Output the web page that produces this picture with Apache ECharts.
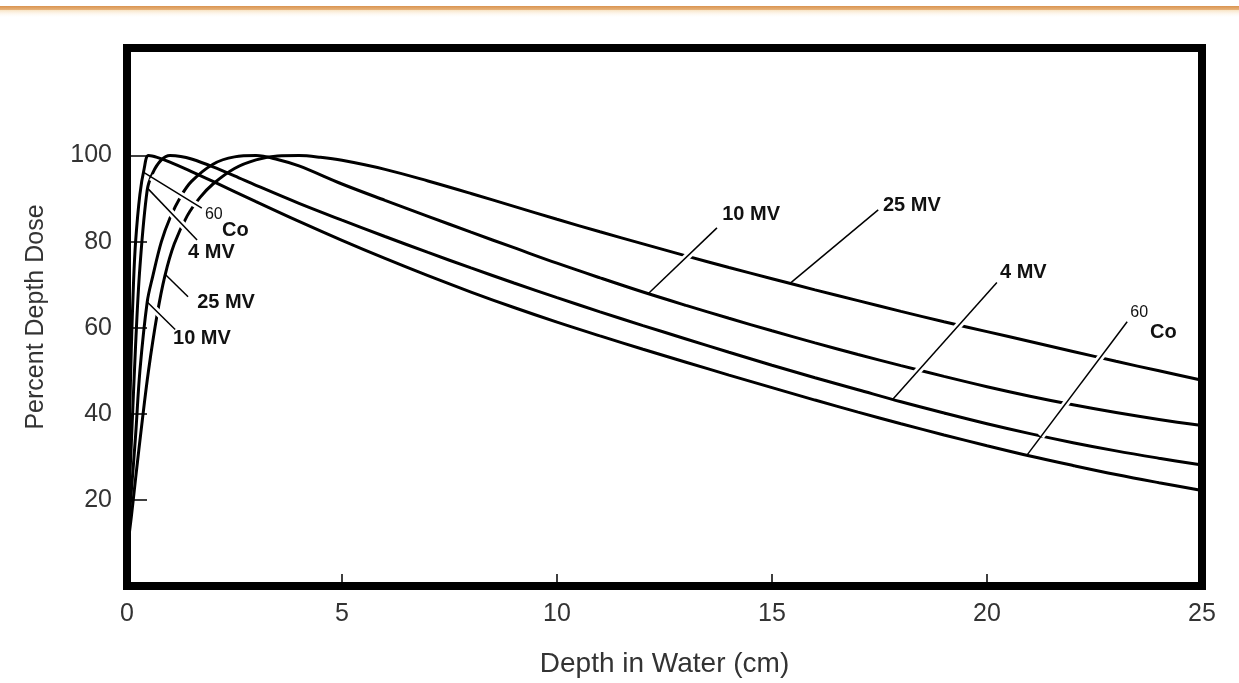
<!DOCTYPE html>
<html><head><meta charset="utf-8">
<script src="https://cdn.jsdelivr.net/npm/echarts@6/dist/echarts.min.js"></script>
<style>html,body{margin:0;padding:0;background:#fff}#c{width:1239px;height:683px}</style>
</head><body><div id="c"></div>
<script>
// ---- data ----
const xTicks = [0, 5, 10, 15, 20, 25];
const yTicks = [20, 40, 60, 80, 100];

const depthCo = [0,0.05,0.1,0.15,0.2,0.3,0.4,0.5,0.7,1,1.5,2,3,4,5,6,7,8,9,10,11,12,13,14,15,16,17,18,19,20,21,22,23,24,25];
const pddCo   = [14,35,55,70,80,91,97,100,99.6,98.5,96.3,94,89.3,84.7,80.3,76.1,72.1,68.3,64.7,61.3,58.1,55,52,49,46.1,43.2,40.4,37.7,35.1,32.6,30.2,28,25.9,24,22.2];

const depth4 = [0,0.1,0.2,0.3,0.47,0.6,0.8,1,1.25,1.5,2,2.5,3,4,5,6,7,8,9,10,11,12,13,14,15,16,17,18,19,20,21,22,23,24,25];
const pdd4   = [12,33,56,74,92,96,99,100,99.8,99.2,97.4,95.3,93.1,88.9,85,81.2,77.5,73.9,70.4,67,63.7,60.5,57.4,54.3,51.3,48.4,45.6,42.8,40.2,37.7,35.4,33.3,31.4,29.7,28.1];

const depth10 = [0,0.1,0.2,0.3,0.47,0.6,0.8,1,1.25,1.5,2,2.5,3,3.5,4,5,6,7,8,9,10,11,12,13,14,15,16,17,18,19,20,21,22,23,24,25];
const pdd10   = [10,22,35,50,66,72,80,85.5,90.5,94,98,99.7,100,99.1,97.6,93.4,89.6,85.9,82.2,78.6,75,71.6,68.3,65.2,62.2,59.3,56.5,53.8,51.2,48.7,46.3,44.1,42.1,40.3,38.7,37.3];

const depth25 = [0,0.1,0.2,0.35,0.5,0.7,0.88,1.1,1.4,1.7,2,2.5,3,3.5,4,4.5,5,6,7,8,9,10,11,12,13,14,15,16,17,18,19,20,21,22,23,24,25];
const pdd25   = [8,16,25,38,50,63,72,79.5,86,90.3,93.4,97,99,99.9,100,99.6,98.9,96.8,94.1,91.2,88.2,85.2,82.3,79.5,76.7,74,71.4,68.8,66.3,63.8,61.4,59.1,56.8,54.5,52.2,50,47.8];

// annotation texts and their anchor points (data coordinates)
const seriesNames = ['60Co', '4 MV', '10 MV', '25 MV'];
const noteText = {
  '60Co':  [['60', 'Co'], ['60', 'Co']],
  '4 MV':  [['4 MV'], ['4 MV']],
  '10 MV': [['10 MV'], ['10 MV']],
  '25 MV': [['25 MV'], ['25 MV']]
};
const noteAt = {
  '60Co':  [[[1.81, 86.4], [2.21, 82.5]], [[23.33, 63.5], [23.79, 58.9]]],
  '4 MV':  [[[1.42, 77.4]], [[20.3, 72.8]]],
  '10 MV': [[[1.07, 57.5]], [[13.84, 86.4]]],
  '25 MV': [[[1.63, 65.8]], [[17.58, 88.3]]]
};
const arrowFrom = {
  '60Co':  [[1.74, 87.8], [23.26, 61.4]],
  '4 MV':  [[1.63, 80.4], [20.23, 70.5]],
  '10 MV': [[1.12, 59.6], [13.72, 83.2]],
  '25 MV': [[1.42, 67.2], [17.47, 87.4]]
};
const arrowTo = {
  '60Co':  [[0.37, 96.2], [20.93, 30.4]],
  '4 MV':  [[0.47, 92.5], [17.81, 43.4]],
  '10 MV': [[0.47, 66.0], [12.12, 67.9]],
  '25 MV': [[0.88, 72.5], [15.42, 70.3]]
};

const curves = {
  '60Co':  [depthCo, pddCo],
  '4 MV':  [depth4, pdd4],
  '10 MV': [depth10, pdd10],
  '25 MV': [depth25, pdd25]
};

// ---- chart ----
const FONT = "'Liberation Sans', Arial, Helvetica, sans-serif";
const chart = echarts.init(document.getElementById('c'), null, {renderer: 'canvas'});

function buildSeries(name) {
  const [xs, ys] = curves[name];
  const pts = [];
  noteText[name].forEach((texts, i) => {
    texts.forEach((t, j) => {
      const small = (t === '60');
      pts.push({
        name: t,
        coord: noteAt[name][i][j],
        label: {
          show: true, position: 'right', distance: 0,
          formatter: p => p.name,
          color: '#111', fontFamily: FONT, fontWeight: small ? 'normal' : 'bold',
          fontSize: small ? 16 : 20
        }
      });
    });
  });
  return {
    name: name,
    type: 'line',
    data: xs.map((x, i) => [x, ys[i]]),
    smooth: 0.35,
    showSymbol: false,
    symbol: 'none',
    lineStyle: {color: '#000', width: 3},
    silent: true,
    z: 3,
    markPoint: {
      symbol: 'circle', symbolSize: 0.1,
      itemStyle: {color: 'rgba(0,0,0,0)'},
      silent: true, animation: false,
      data: pts
    }
  };
}

// white breaks where leader arrows cross other curves (as in the original drawing)
const haloLines = [];
const arrowLines = [];
seriesNames.forEach(n => {
  arrowFrom[n].forEach((f, i) => {
    const t = arrowTo[n][i];
    const k = 0.86;
    haloLines.push([{coord: f}, {coord: [f[0] + (t[0] - f[0]) * k, f[1] + (t[1] - f[1]) * k]}]);
    arrowLines.push([{coord: f}, {coord: t}]);
  });
});

const series = seriesNames.map(buildSeries);
series.push({
  name: 'breaks', type: 'line', data: [], z: 4, silent: true,
  markLine: {
    symbol: ['none', 'none'], silent: true, animation: false,
    lineStyle: {color: '#fff', width: 7, type: 'solid', opacity: 1},
    label: {show: false}, emphasis: {disabled: true},
    data: haloLines
  }
});
series.push({
  name: 'leaders', type: 'line', data: [], z: 5, silent: true,
  markLine: {
    symbol: ['none', 'arrow'], symbolSize: [0, 9], silent: true, animation: false,
    lineStyle: {color: '#000', width: 1.5, type: 'solid', opacity: 1},
    label: {show: false}, emphasis: {disabled: true},
    data: arrowLines
  }
});

const option = {
  backgroundColor: '#fff',
  animation: false,
  graphic: [
    {type: 'rect', left: 0, top: 6, z: 10, silent: true,
     shape: {width: 1239, height: 4},
     style: {fill: new echarts.graphic.LinearGradient(0, 0, 0, 1, [
       {offset: 0, color: '#D99350'}, {offset: 1, color: '#E8B57E'}])}},
    {type: 'rect', left: 0, top: 10, z: 10, silent: true,
     shape: {width: 1239, height: 8},
     style: {fill: new echarts.graphic.LinearGradient(0, 0, 0, 1, [
       {offset: 0, color: 'rgba(245,215,170,0.7)'}, {offset: 1, color: 'rgba(255,255,255,0)'}])}}
  ],
  grid: {
    left: 127, right: 37, top: 48, bottom: 96,
    show: true, borderColor: '#000', borderWidth: 8,
    backgroundColor: 'rgba(0,0,0,0)'
  },
  xAxis: {
    type: 'value', min: 0, max: 25, interval: 5,
    name: 'Depth in Water (cm)', nameLocation: 'middle', nameGap: 64,
    nameTextStyle: {color: '#333', fontSize: 28, fontFamily: FONT},
    axisLine: {show: false},
    axisTick: {show: true, inside: true, length: 12, lineStyle: {color: '#000', width: 1.5}},
    axisLabel: {show: true, margin: 16, color: '#333', fontSize: 25, fontFamily: FONT,
                customValues: xTicks},
    splitLine: {show: false}
  },
  yAxis: {
    type: 'value', min: 0, max: 125,
    name: 'Percent Depth Dose', nameLocation: 'middle', nameGap: 78, nameRotate: 90,
    nameTextStyle: {color: '#333', fontSize: 25, fontFamily: FONT},
    axisLine: {show: false},
    axisTick: {show: true, inside: true, length: 20, lineStyle: {color: '#000', width: 1.5},
               customValues: yTicks},
    axisLabel: {show: true, margin: 15, color: '#333', fontSize: 25, fontFamily: FONT,
                customValues: yTicks},
    splitLine: {show: false}
  },
  series: series
};
chart.setOption(option);
</script>
</body></html>
